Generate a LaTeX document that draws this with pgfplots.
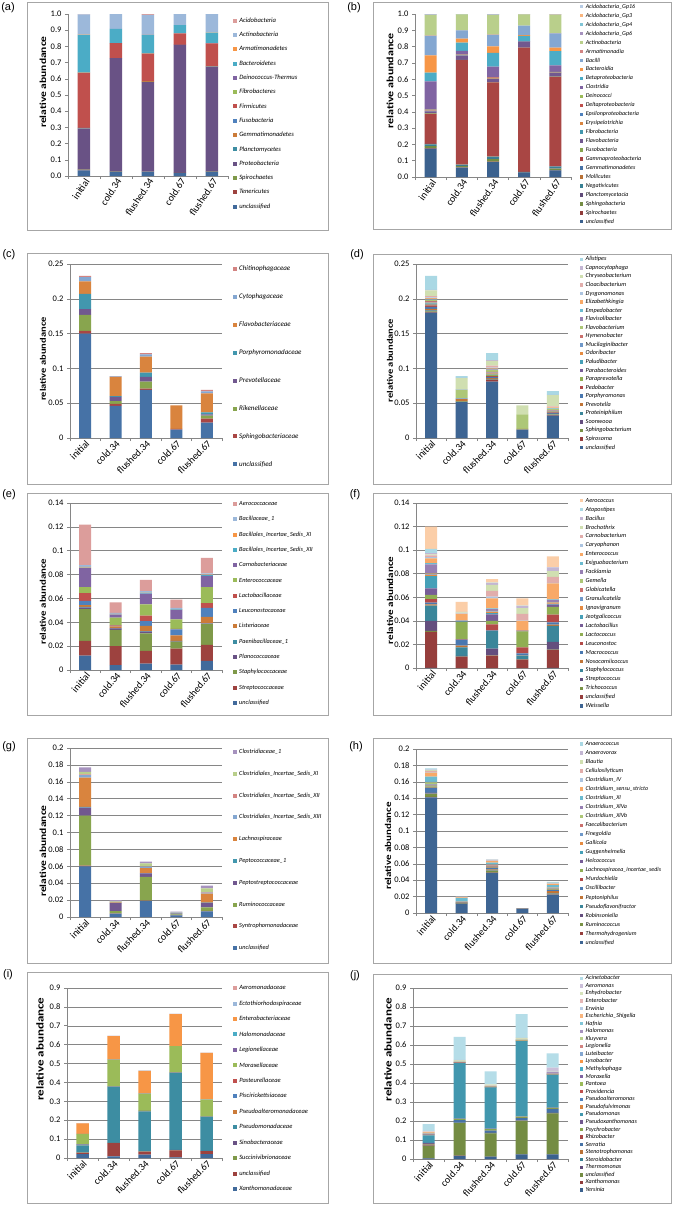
\documentclass[border=0pt]{standalone}
\usepackage{pgfplots}
\pgfplotsset{compat=1.18}
\usepackage{graphicx}
\usepackage{fontspec}
\setmainfont{Carlito}
\newfontfamily\arialf{Liberation Sans}

\definecolor{acc0}{HTML}{4F81BD}
\definecolor{acc1}{HTML}{C0504D}
\definecolor{acc2}{HTML}{9BBB59}
\definecolor{acc3}{HTML}{8064A2}
\definecolor{acc4}{HTML}{4BACC6}
\definecolor{acc5}{HTML}{F79646}
\definecolor{framec}{HTML}{A6A6A6}
\definecolor{axisc}{HTML}{868686}

% Excel-like palette: series k gets accent (k mod 6), darker/lighter by cycle
\newcommand\setpal[1]{%
  \foreach \k in {0,...,28}{%
    \pgfmathtruncatemacro\acc{mod(\k,6)}%
    \pgfmathtruncatemacro\cyc{floor(\k/6)}%
    \pgfmathsetmacro\f{(\cyc+1)/(#1+1)*1.4-0.7}%
    \ifdim\f pt<0pt
      \pgfmathtruncatemacro\p{100*exp(ln(1+\f)/2.2)}%
      \xglobal\colorlet{s\k}{acc\acc!\p!black}%
    \else
      \pgfmathtruncatemacro\p{max(0,100*(1-1.25*\f))}%
      \xglobal\colorlet{s\k}{acc\acc!\p!white}%
    \fi
  }%
}

\pgfplotscreateplotcyclelist{pal}{%
{fill=s0,draw=none},{fill=s1,draw=none},{fill=s2,draw=none},{fill=s3,draw=none},{fill=s4,draw=none},{fill=s5,draw=none},%
{fill=s6,draw=none},{fill=s7,draw=none},{fill=s8,draw=none},{fill=s9,draw=none},{fill=s10,draw=none},{fill=s11,draw=none},%
{fill=s12,draw=none},{fill=s13,draw=none},{fill=s14,draw=none},{fill=s15,draw=none},{fill=s16,draw=none},{fill=s17,draw=none},%
{fill=s18,draw=none},{fill=s19,draw=none},{fill=s20,draw=none},{fill=s21,draw=none},{fill=s22,draw=none},{fill=s23,draw=none},%
{fill=s24,draw=none},{fill=s25,draw=none},{fill=s26,draw=none},{fill=s27,draw=none},{fill=s28,draw=none}}

\def\mk{4}\def\mkh{2}
% legend: #1 x, #2 y (axis description cs), #3 font size, #4 row pitch
\pgfplotsset{
  myleg/.style={legend image code/.code={\fill[##1] (0pt,-\mkh pt) rectangle (\mk pt,\mkh pt);}},
  leg/.style n args={4}{legend style={at={(#1,#2)},
    font=\fontsize{#3}{#3}\selectfont\itshape, row sep=0pt,
    nodes={inner ysep=0pt, inner xsep=2.3pt, minimum height=#4pt,
           text height=0.7*#3pt, text depth=0.2*#3pt}}},
  panel/.style={
    scale only axis, anchor=south west,
    ybar stacked, ymin=0, xmin=-0.5, xmax=4.5,
    axis x line*=bottom, axis y line*=left,
    axis line style={axisc, line width=0.6pt},
    tick align=outside, major tick length=3pt,
    tick style={axisc, line width=0.6pt},
    xtick={-0.5,0.5,1.5,2.5,3.5,4.5}, xticklabels={},
    extra x ticks={0,1,2,3,4},
    extra x tick labels={initial,cold.34,flushed.34,cold.67,flushed.67},
    extra x tick style={major tick length=0pt},
    xticklabel style={anchor=north east, inner sep=1pt, font=\fontsize{10}{10}\selectfont},
    yticklabel style={font=\fontsize{8.5}{9}\selectfont},
    /pgf/number format/assume math mode=true,
    scaled y ticks=false,
    grid style={draw=axisc, line width=0.5pt},
    cycle list name=pal,
    every axis plot post/.append style={myleg},
    reverse legend, legend cell align=left,
    legend style={draw=none, fill=none, anchor=north west, inner sep=0pt, outer sep=0pt},
    ylabel={\scalebox{1}[0.8]{\bfseries relative abundance}},
    ylabel style={anchor=center},
  },
}

\begin{document}
\begin{tikzpicture}
\path[use as bounding box, fill=white] (0pt,0pt) rectangle (676pt,-1205pt);

% ---------------- (a) phylum ----------------
\setpal{3}\def\mk{4}\def\mkh{2}
\begin{axis}[panel, at={(68pt,-176pt)}, width=160pt, height=162pt, bar width=12.5pt,
  ymax=1, ytick={0,0.1,0.2,0.3,0.4,0.5,0.6,0.7,0.8,0.9,1},
  yticklabel style={/pgf/number format/.cd, fixed, fixed zerofill, precision=1},
  xticklabel style={rotate=56},
  ylabel style={at={(axis description cs:-0.156,0.58)}, font=\fontsize{11.5}{11.5}\selectfont},
  leg={1.031}{1.003}{6.6}{14.3}]
\addplot coordinates {(0,0.035) (1,0.025) (2,0.027) (3,0.018) (4,0.025)}; \addlegendentry{unclassified}
\addplot coordinates {(0,0.003) (1,0.001) (2,0.001) (3,0.001) (4,0.001)}; \addlegendentry{Tenericutes}
\addplot coordinates {(0,0.002) (1,0.001) (2,0.001) (3,0.001) (4,0.001)}; \addlegendentry{Spirochaetes}
\addplot coordinates {(0,0.253) (1,0.700) (2,0.551) (3,0.789) (4,0.647)}; \addlegendentry{Proteobacteria}
\addplot coordinates {(0,0.001) (1,0.000) (2,0.001) (3,0.000) (4,0.001)}; \addlegendentry{Planctomycetes}
\addplot coordinates {(0,0.001) (1,0.000) (2,0.004) (3,0.000) (4,0.001)}; \addlegendentry{Gemmatimonadetes}
\addplot coordinates {(0,0.002) (1,0.001) (2,0.001) (3,0.001) (4,0.001)}; \addlegendentry{Fusobacteria}
\addplot coordinates {(0,0.340) (1,0.092) (2,0.170) (3,0.071) (4,0.142)}; \addlegendentry{Firmicutes}
\addplot coordinates {(0,0.001) (1,0.000) (2,0.001) (3,0.000) (4,0.000)}; \addlegendentry{Fibrobacteres}
\addplot coordinates {(0,0.001) (1,0.001) (2,0.001) (3,0.000) (4,0.001)}; \addlegendentry{Deinococcus-Thermus}
\addplot coordinates {(0,0.232) (1,0.087) (2,0.112) (3,0.051) (4,0.065)}; \addlegendentry{Bacteroidetes}
\addplot coordinates {(0,0.002) (1,0.000) (2,0.001) (3,0.000) (4,0.001)}; \addlegendentry{Armatimonadetes}
\addplot coordinates {(0,0.125) (1,0.092) (2,0.123) (3,0.067) (4,0.113)}; \addlegendentry{Actinobacteria}
\addplot coordinates {(0,0.002) (1,0.000) (2,0.006) (3,0.001) (4,0.001)}; \addlegendentry{Acidobacteria}
\end{axis}

% ---------------- (b) class ----------------
\setpal{5}\def\mk{3.4}\def\mkh{1.7}
\begin{axis}[panel, at={(415pt,-177pt)}, width=156pt, height=163pt, bar width=12pt,
  ymax=1, ytick={0,0.1,0.2,0.3,0.4,0.5,0.6,0.7,0.8,0.9,1},
  yticklabel style={/pgf/number format/.cd, fixed, fixed zerofill, precision=1},
  xticklabel style={rotate=55},
  ylabel style={at={(axis description cs:-0.160,0.59)}, font=\fontsize{12}{12}\selectfont},
  leg={1.058}{1.072}{6.0}{8.96}]
\addplot coordinates {(0,0.174) (1,0.057) (2,0.092) (3,0.028) (4,0.041)}; \addlegendentry{unclassified}
\addplot coordinates {(0,0.003) (1,0.002) (2,0.003) (3,0.001) (4,0.001)}; \addlegendentry{Spirochaetes}
\addplot coordinates {(0,0.012) (1,0.008) (2,0.015) (3,0.001) (4,0.010)}; \addlegendentry{Sphingobacteria}
\addplot coordinates {(0,0.001) (1,0.001) (2,0.001) (3,0.000) (4,0.001)}; \addlegendentry{Planctomycetacia}
\addplot coordinates {(0,0.010) (1,0.007) (2,0.012) (3,0.001) (4,0.010)}; \addlegendentry{Negativicutes}
\addplot coordinates {(0,0.002) (1,0.001) (2,0.002) (3,0.000) (4,0.001)}; \addlegendentry{Mollicutes}
\addplot coordinates {(0,0.001) (1,0.001) (2,0.001) (3,0.000) (4,0.001)}; \addlegendentry{Gemmatimonadetes}
\addplot coordinates {(0,0.185) (1,0.640) (2,0.454) (3,0.762) (4,0.550)}; \addlegendentry{Gammaproteobacteria}
\addplot coordinates {(0,0.002) (1,0.002) (2,0.002) (3,0.001) (4,0.001)}; \addlegendentry{Fusobacteria}
\addplot coordinates {(0,0.012) (1,0.025) (2,0.018) (3,0.035) (4,0.022)}; \addlegendentry{Flavobacteria}
\addplot coordinates {(0,0.002) (1,0.002) (2,0.002) (3,0.001) (4,0.001)}; \addlegendentry{Fibrobacteria}
\addplot coordinates {(0,0.003) (1,0.002) (2,0.003) (3,0.000) (4,0.002)}; \addlegendentry{Erysipelotrichia}
\addplot coordinates {(0,0.002) (1,0.001) (2,0.002) (3,0.000) (4,0.001)}; \addlegendentry{Epsilonproteobacteria}
\addplot coordinates {(0,0.003) (1,0.002) (2,0.004) (3,0.001) (4,0.002)}; \addlegendentry{Deltaproteobacteria}
\addplot coordinates {(0,0.002) (1,0.001) (2,0.002) (3,0.000) (4,0.001)}; \addlegendentry{Deinococci}
\addplot coordinates {(0,0.172) (1,0.022) (2,0.064) (3,0.003) (4,0.040)}; \addlegendentry{Clostridia}
\addplot coordinates {(0,0.055) (1,0.050) (2,0.085) (3,0.032) (4,0.088)}; \addlegendentry{Betaproteobacteria}
\addplot coordinates {(0,0.105) (1,0.025) (2,0.040) (3,0.005) (4,0.020)}; \addlegendentry{Bacteroidia}
\addplot coordinates {(0,0.120) (1,0.050) (2,0.070) (3,0.058) (4,0.088)}; \addlegendentry{Bacilli}
\addplot coordinates {(0,0.002) (1,0.001) (2,0.002) (3,0.000) (4,0.001)}; \addlegendentry{Armatimonadia}
\addplot coordinates {(0,0.126) (1,0.097) (2,0.120) (3,0.069) (4,0.114)}; \addlegendentry{Actinobacteria}
\addplot coordinates {(0,0.002) (1,0.001) (2,0.002) (3,0.001) (4,0.001)}; \addlegendentry{Acidobacteria\_Gp6}
\addplot coordinates {(0,0.001) (1,0.001) (2,0.001) (3,0.0005) (4,0.001)}; \addlegendentry{Acidobacteria\_Gp4}
\addplot coordinates {(0,0.001) (1,0.0005) (2,0.001) (3,0.0005) (4,0.0005)}; \addlegendentry{Acidobacteria\_Gp3}
\addplot coordinates {(0,0.002) (1,0.0005) (2,0.002) (3,0.000) (4,0.0005)}; \addlegendentry{Acidobacteria\_Gp16}
\end{axis}

% ---------------- (c) Bacteroidetes families ----------------
\setpal{2}\def\mk{4}\def\mkh{2}
\begin{axis}[panel, at={(70pt,-438pt)}, width=152pt, height=174pt, bar width=12pt,
  ymax=0.25, ytick={0,0.05,0.1,0.15,0.2,0.25}, ymajorgrids,
  yticklabel style={/pgf/number format/fixed},
  xticklabel style={rotate=45},
  ylabel style={at={(axis description cs:-0.178,0.454)}, font=\fontsize{10.5}{10.5}\selectfont},
  leg={1.072}{1.051}{7}{27.9}]
\addplot coordinates {(0,0.150) (1,0.046) (2,0.069) (3,0.012) (4,0.022)}; \addlegendentry{unclassified}
\addplot coordinates {(0,0.004) (1,0.003) (2,0.002) (3,0.001) (4,0.006)}; \addlegendentry{Sphingobacteriaceae}
\addplot coordinates {(0,0.023) (1,0.004) (2,0.010) (3,0.000) (4,0.004)}; \addlegendentry{Rikenellaceae}
\addplot coordinates {(0,0.008) (1,0.006) (2,0.007) (3,0.000) (4,0.002)}; \addlegendentry{Prevotellaceae}
\addplot coordinates {(0,0.022) (1,0.001) (2,0.006) (3,0.000) (4,0.003)}; \addlegendentry{Porphyromonadaceae}
\addplot coordinates {(0,0.018) (1,0.028) (2,0.023) (3,0.034) (4,0.027)}; \addlegendentry{Flavobacteriaceae}
\addplot coordinates {(0,0.006) (1,0.0005) (2,0.003) (3,0.000) (4,0.003)}; \addlegendentry{Cytophagaceae}
\addplot coordinates {(0,0.002) (1,0.0005) (2,0.002) (3,0.000) (4,0.002)}; \addlegendentry{Chitinophagaceae}
\end{axis}

% ---------------- (d) Bacteroidetes genera ----------------
\setpal{4}\def\mk{3.4}\def\mkh{1.7}
\begin{axis}[panel, at={(416pt,-438pt)}, width=152pt, height=174pt, bar width=12pt,
  ymax=0.25, ytick={0,0.05,0.1,0.15,0.2,0.25}, ymajorgrids,
  yticklabel style={/pgf/number format/fixed},
  xticklabel style={rotate=45},
  ylabel style={at={(axis description cs:-0.171,0.445)}, font=\fontsize{10.5}{10.5}\selectfont},
  leg={1.079}{1.052}{6.2}{8.56}]
\addplot coordinates {(0,0.180) (1,0.052) (2,0.081) (3,0.012) (4,0.032)}; \addlegendentry{unclassified}
\addplot coordinates {(0,0.001) (1,0.000) (2,0.002) (3,0.000) (4,0.001)}; \addlegendentry{Spirosoma}
\addplot coordinates {(0,0.001) (1,0.0005) (2,0.001) (3,0.0005) (4,0.0005)}; \addlegendentry{Sphingobacterium}
\addplot coordinates {(0,0.0005) (1,0.000) (2,0.0005) (3,0.000) (4,0.000)}; \addlegendentry{Soonwooa}
\addplot coordinates {(0,0.001) (1,0.000) (2,0.0005) (3,0.000) (4,0.0005)}; \addlegendentry{Proteiniphilum}
\addplot coordinates {(0,0.002) (1,0.0035) (2,0.001) (3,0.0005) (4,0.0005)}; \addlegendentry{Prevotella}
\addplot coordinates {(0,0.003) (1,0.0005) (2,0.002) (3,0.000) (4,0.0015)}; \addlegendentry{Porphyromonas}
\addplot coordinates {(0,0.002) (1,0.000) (2,0.001) (3,0.000) (4,0.001)}; \addlegendentry{Pedobacter}
\addplot coordinates {(0,0.001) (1,0.000) (2,0.002) (3,0.000) (4,0.0005)}; \addlegendentry{Paraprevotella}
\addplot coordinates {(0,0.001) (1,0.000) (2,0.0005) (3,0.000) (4,0.000)}; \addlegendentry{Parabacteroides}
\addplot coordinates {(0,0.001) (1,0.000) (2,0.0005) (3,0.000) (4,0.0005)}; \addlegendentry{Paludibacter}
\addplot coordinates {(0,0.001) (1,0.000) (2,0.001) (3,0.000) (4,0.0005)}; \addlegendentry{Odoribacter}
\addplot coordinates {(0,0.001) (1,0.0005) (2,0.001) (3,0.000) (4,0.001)}; \addlegendentry{Mucilaginibacter}
\addplot coordinates {(0,0.001) (1,0.000) (2,0.001) (3,0.000) (4,0.0005)}; \addlegendentry{Hymenobacter}
\addplot coordinates {(0,0.002) (1,0.012) (2,0.003) (3,0.021) (4,0.0015)}; \addlegendentry{Flavobacterium}
\addplot coordinates {(0,0.0005) (1,0.000) (2,0.0005) (3,0.000) (4,0.000)}; \addlegendentry{Flavisolibacter}
\addplot coordinates {(0,0.001) (1,0.0005) (2,0.001) (3,0.000) (4,0.001)}; \addlegendentry{Empedobacter}
\addplot coordinates {(0,0.001) (1,0.000) (2,0.0005) (3,0.000) (4,0.0015)}; \addlegendentry{Elizabethkingia}
\addplot coordinates {(0,0.001) (1,0.000) (2,0.001) (3,0.000) (4,0.0005)}; \addlegendentry{Dysgonomonas}
\addplot coordinates {(0,0.002) (1,0.0005) (2,0.003) (3,0.000) (4,0.001)}; \addlegendentry{Cloacibacterium}
\addplot coordinates {(0,0.008) (1,0.016) (2,0.007) (3,0.013) (4,0.016)}; \addlegendentry{Chryseobacterium}
\addplot coordinates {(0,0.001) (1,0.0005) (2,0.001) (3,0.000) (4,0.0005)}; \addlegendentry{Capnocytophaga}
\addplot coordinates {(0,0.020) (1,0.0025) (2,0.010) (3,0.000) (4,0.0055)}; \addlegendentry{Alistipes}
\end{axis}

% ---------------- (e) Bacilli families ----------------
\setpal{3}\def\mk{4}\def\mkh{2}
\begin{axis}[panel, at={(70pt,-670pt)}, width=152pt, height=167pt, bar width=12pt,
  ymax=0.14, ytick={0,0.02,0.04,0.06,0.08,0.1,0.12,0.14}, ymajorgrids,
  yticklabel style={/pgf/number format/fixed},
  xticklabel style={rotate=50},
  ylabel style={at={(axis description cs:-0.178,0.41)}, font=\fontsize{10.8}{10.8}\selectfont},
  leg={1.072}{1.040}{6.3}{15.3}]
\addplot coordinates {(0,0.012) (1,0.004) (2,0.0053) (3,0.0045) (4,0.0076)}; \addlegendentry{unclassified}
\addplot coordinates {(0,0.0124) (1,0.016) (2,0.0107) (3,0.0135) (4,0.0134)}; \addlegendentry{Streptococcaceae}
\addplot coordinates {(0,0.0266) (1,0.0136) (2,0.0148) (3,0.0058) (4,0.0174)}; \addlegendentry{Staphylococcaceae}
\addplot coordinates {(0,0.0014) (1,0.0012) (2,0.0013) (3,0.0004) (4,0.0004)}; \addlegendentry{Planococcaceae}
\addplot coordinates {(0,0.0005) (1,0.0004) (2,0.0004) (3,0.0002) (4,0.0002)}; \addlegendentry{Paenibacillaceae\_1}
\addplot coordinates {(0,0.0015) (1,0.0014) (2,0.0045) (3,0.0046) (4,0.0055)}; \addlegendentry{Listeriaceae}
\addplot coordinates {(0,0.0035) (1,0.0004) (2,0.004) (3,0.005) (4,0.0075)}; \addlegendentry{Leuconostocaceae}
\addplot coordinates {(0,0.0065) (1,0.0005) (2,0.0045) (3,0.0005) (4,0.004)}; \addlegendentry{Lactobacillaceae}
\addplot coordinates {(0,0.005) (1,0.0065) (2,0.0095) (3,0.008) (4,0.0135)}; \addlegendentry{Enterococcaceae}
\addplot coordinates {(0,0.016) (1,0.0025) (2,0.009) (3,0.008) (4,0.0095)}; \addlegendentry{Carnobacteriaceae}
\addplot coordinates {(0,0.0005) (1,0.0002) (2,0.0008) (3,0.0003) (4,0.0005)}; \addlegendentry{Bacillales\_Incertae\_Sedis\_XII}
\addplot coordinates {(0,0.0005) (1,0.0003) (2,0.0003) (3,0.0002) (4,0.0005)}; \addlegendentry{Bacillales\_Incertae\_Sedis\_XI}
\addplot coordinates {(0,0.0015) (1,0.001) (2,0.001) (3,0.001) (4,0.001)}; \addlegendentry{Bacillaceae\_1}
\addplot coordinates {(0,0.034) (1,0.0086) (2,0.0094) (3,0.007) (4,0.013)}; \addlegendentry{Aerococcaceae}
\end{axis}

% ---------------- (f) Bacilli genera ----------------
\setpal{4}\def\mk{3.4}\def\mkh{1.7}
\begin{axis}[panel, at={(416pt,-668pt)}, width=152pt, height=165pt, bar width=12pt,
  ymax=0.14, ytick={0,0.02,0.04,0.06,0.08,0.1,0.12,0.14}, ymajorgrids,
  yticklabel style={/pgf/number format/fixed},
  xticklabel style={rotate=50},
  ylabel style={at={(axis description cs:-0.171,0.41)}, font=\fontsize{11}{11}\selectfont},
  leg={1.079}{1.041}{6.2}{8.93}]
\addplot coordinates {(0,0.0002) (1,0.000) (2,0.000) (3,0.000) (4,0.0002)}; \addlegendentry{Weissella}
\addplot coordinates {(0,0.0305) (1,0.0094) (2,0.0105) (3,0.0071) (4,0.0151)}; \addlegendentry{unclassified}
\addplot coordinates {(0,0.0008) (1,0.0003) (2,0.0003) (3,0.0002) (4,0.0002)}; \addlegendentry{Trichococcus}
\addplot coordinates {(0,0.0085) (1,0.0005) (2,0.0057) (3,0.0002) (4,0.0067)}; \addlegendentry{Streptococcus}
\addplot coordinates {(0,0.013) (1,0.0073) (2,0.0147) (3,0.003) (4,0.0136)}; \addlegendentry{Staphylococcus}
\addplot coordinates {(0,0.001) (1,0.0015) (2,0.0003) (3,0.0003) (4,0.001)}; \addlegendentry{Nosocomiicoccus}
\addplot coordinates {(0,0.0015) (1,0.005) (2,0.0005) (3,0.0017) (4,0.002)}; \addlegendentry{Macrococcus}
\addplot coordinates {(0,0.003) (1,0.0005) (2,0.005) (3,0.005) (4,0.0065)}; \addlegendentry{Leuconostoc}
\addplot coordinates {(0,0.0035) (1,0.0145) (2,0.003) (3,0.0135) (4,0.0065)}; \addlegendentry{Lactococcus}
\addplot coordinates {(0,0.0055) (1,0.0002) (2,0.0055) (3,0.0002) (4,0.002)}; \addlegendentry{Lactobacillus}
\addplot coordinates {(0,0.0105) (1,0.0003) (2,0.001) (3,0.0002) (4,0.0005)}; \addlegendentry{Jeotgalicoccus}
\addplot coordinates {(0,0.001) (1,0.0002) (2,0.001) (3,0.0001) (4,0.0005)}; \addlegendentry{Ignavigranum}
\addplot coordinates {(0,0.0005) (1,0.0001) (2,0.0003) (3,0.0001) (4,0.0003)}; \addlegendentry{Granulicatella}
\addplot coordinates {(0,0.0005) (1,0.0001) (2,0.0003) (3,0.0001) (4,0.0003)}; \addlegendentry{Globicatella}
\addplot coordinates {(0,0.0005) (1,0.0001) (2,0.0004) (3,0.0001) (4,0.0004)}; \addlegendentry{Gemella}
\addplot coordinates {(0,0.0075) (1,0.0002) (2,0.0015) (3,0.0001) (4,0.002)}; \addlegendentry{Facklamia}
\addplot coordinates {(0,0.001) (1,0.0002) (2,0.0005) (3,0.0001) (4,0.0005)}; \addlegendentry{Exiguobacterium}
\addplot coordinates {(0,0.004) (1,0.0056) (2,0.0085) (3,0.0079) (4,0.0135)}; \addlegendentry{Enterococcus}
\addplot coordinates {(0,0.001) (1,0.0001) (2,0.0015) (3,0.0003) (4,0.0005)}; \addlegendentry{Caryophanon}
\addplot coordinates {(0,0.0015) (1,0.0003) (2,0.005) (3,0.0057) (4,0.005)}; \addlegendentry{Carnobacterium}
\addplot coordinates {(0,0.001) (1,0.0008) (2,0.005) (3,0.005) (4,0.005)}; \addlegendentry{Brochothrix}
\addplot coordinates {(0,0.001) (1,0.0002) (2,0.0015) (3,0.0017) (4,0.003)}; \addlegendentry{Bacillus}
\addplot coordinates {(0,0.0035) (1,0.0002) (2,0.0005) (3,0.0003) (4,0.0003)}; \addlegendentry{Atopostipes}
\addplot coordinates {(0,0.019) (1,0.0085) (2,0.003) (3,0.0061) (4,0.0092)}; \addlegendentry{Aerococcus}
\end{axis}

% ---------------- (g) Clostridia families ----------------
\setpal{2}\def\mk{4}\def\mkh{2}
\begin{axis}[panel, at={(70pt,-917pt)}, width=152pt, height=169pt, bar width=12pt,
  ymax=0.2, ytick={0,0.02,0.04,0.06,0.08,0.1,0.12,0.14,0.16,0.18,0.2}, ymajorgrids,
  yticklabel style={/pgf/number format/fixed},
  xticklabel style={rotate=45},
  ylabel style={at={(axis description cs:-0.178,0.39)}, font=\fontsize{11.5}{11.5}\selectfont},
  leg={1.072}{1.041}{6.3}{21.8}]
\addplot coordinates {(0,0.060) (1,0.004) (2,0.019) (3,0.002) (4,0.0067)}; \addlegendentry{unclassified}
\addplot coordinates {(0,0.0008) (1,0.0003) (2,0.0005) (3,0.0002) (4,0.0005)}; \addlegendentry{Syntrophomonadaceae}
\addplot coordinates {(0,0.0592) (1,0.0027) (2,0.028) (3,0.001) (4,0.0043)}; \addlegendentry{Ruminococcaceae}
\addplot coordinates {(0,0.0095) (1,0.0095) (2,0.004) (3,0.0008) (4,0.0051)}; \addlegendentry{Peptostreptococcaceae}
\addplot coordinates {(0,0.0008) (1,0.0003) (2,0.0005) (3,0.0003) (4,0.0005)}; \addlegendentry{Peptococcaceae\_1}
\addplot coordinates {(0,0.0347) (1,0.0005) (2,0.006) (3,0.0003) (4,0.0106)}; \addlegendentry{Lachnospiraceae}
\addplot coordinates {(0,0.003) (1,0.0005) (2,0.0015) (3,0.0005) (4,0.0013)}; \addlegendentry{Clostridiales\_Incertae\_Sedis\_XIII}
\addplot coordinates {(0,0.0008) (1,0.0002) (2,0.0005) (3,0.0002) (4,0.0005)}; \addlegendentry{Clostridiales\_Incertae\_Sedis\_XII}
\addplot coordinates {(0,0.003) (1,0.0005) (2,0.0035) (3,0.0002) (4,0.0045)}; \addlegendentry{Clostridiales\_Incertae\_Sedis\_XI}
\addplot coordinates {(0,0.0052) (1,0.0015) (2,0.002) (3,0.0008) (4,0.003)}; \addlegendentry{Clostridiaceae\_1}
\end{axis}

% ---------------- (h) Clostridia genera ----------------
\setpal{4}\def\mk{3.4}\def\mkh{1.7}
\begin{axis}[panel, at={(416pt,-913pt)}, width=152pt, height=164pt, bar width=12pt,
  ymax=0.2, ytick={0,0.02,0.04,0.06,0.08,0.1,0.12,0.14,0.16,0.18,0.2}, ymajorgrids,
  yticklabel style={/pgf/number format/fixed},
  xticklabel style={rotate=48},
  ylabel style={at={(axis description cs:-0.184,0.41)}, font=\fontsize{11}{11}\selectfont},
  leg={1.079}{1.058}{6.0}{9.03}]
\addplot coordinates {(0,0.141) (1,0.011) (2,0.0488) (3,0.0049) (4,0.0224)}; \addlegendentry{unclassified}
\addplot coordinates {(0,0.0005) (1,0.0002) (2,0.0004) (3,0.0001) (4,0.0003)}; \addlegendentry{Thermohydrogenium}
\addplot coordinates {(0,0.0035) (1,0.0003) (2,0.0025) (3,0.0001) (4,0.0008)}; \addlegendentry{Ruminococcus}
\addplot coordinates {(0,0.0005) (1,0.0001) (2,0.0004) (3,0.000) (4,0.0003)}; \addlegendentry{Robinsoniella}
\addplot coordinates {(0,0.0005) (1,0.0002) (2,0.0005) (3,0.000) (4,0.0005)}; \addlegendentry{Pseudoflavonifractor}
\addplot coordinates {(0,0.0005) (1,0.0003) (2,0.0005) (3,0.000) (4,0.0025)}; \addlegendentry{Peptoniphilus}
\addplot coordinates {(0,0.006) (1,0.0003) (2,0.0018) (3,0.0001) (4,0.0012)}; \addlegendentry{Oscillibacter}
\addplot coordinates {(0,0.0005) (1,0.0002) (2,0.0005) (3,0.000) (4,0.0003)}; \addlegendentry{Murdochiella}
\addplot coordinates {(0,0.0015) (1,0.0003) (2,0.0008) (3,0.000) (4,0.0005)}; \addlegendentry{Lachnospiracea\_incertae\_sedis}
\addplot coordinates {(0,0.0005) (1,0.0002) (2,0.0003) (3,0.000) (4,0.0003)}; \addlegendentry{Helcococcus}
\addplot coordinates {(0,0.0003) (1,0.0001) (2,0.0002) (3,0.000) (4,0.0002)}; \addlegendentry{Guggenheimella}
\addplot coordinates {(0,0.001) (1,0.0002) (2,0.0004) (3,0.000) (4,0.0005)}; \addlegendentry{Gallicola}
\addplot coordinates {(0,0.0005) (1,0.0002) (2,0.0005) (3,0.000) (4,0.0005)}; \addlegendentry{Finegoldia}
\addplot coordinates {(0,0.0005) (1,0.0001) (2,0.0005) (3,0.000) (4,0.0003)}; \addlegendentry{Faecalibacterium}
\addplot coordinates {(0,0.002) (1,0.0003) (2,0.001) (3,0.000) (4,0.0005)}; \addlegendentry{Clostridium\_XlVb}
\addplot coordinates {(0,0.0005) (1,0.0001) (2,0.0005) (3,0.000) (4,0.0003)}; \addlegendentry{Clostridium\_XlVa}
\addplot coordinates {(0,0.0065) (1,0.004) (2,0.002) (3,0.0002) (4,0.0025)}; \addlegendentry{Clostridium\_XI}
\addplot coordinates {(0,0.005) (1,0.001) (2,0.0018) (3,0.0002) (4,0.0015)}; \addlegendentry{Clostridium\_sensu\_stricto}
\addplot coordinates {(0,0.0005) (1,0.0002) (2,0.0005) (3,0.000) (4,0.0003)}; \addlegendentry{Clostridium\_IV}
\addplot coordinates {(0,0.0015) (1,0.0002) (2,0.0005) (3,0.0003) (4,0.0005)}; \addlegendentry{Cellulosilyticum}
\addplot coordinates {(0,0.001) (1,0.0003) (2,0.0003) (3,0.000) (4,0.0005)}; \addlegendentry{Blautia}
\addplot coordinates {(0,0.0005) (1,0.0001) (2,0.0003) (3,0.000) (4,0.0002)}; \addlegendentry{Anaerovorax}
\addplot coordinates {(0,0.0015) (1,0.0002) (2,0.0005) (3,0.000) (4,0.001)}; \addlegendentry{Anaerococcus}
\end{axis}

% ---------------- (i) Gammaproteobacteria families ----------------
\setpal{3}\def\mk{4}\def\mkh{2}
\begin{axis}[panel, at={(67pt,-1158pt)}, width=155pt, height=170pt, bar width=12.5pt,
  ymax=0.9, ytick={0,0.1,0.2,0.3,0.4,0.5,0.6,0.7,0.8,0.9}, ymajorgrids,
  yticklabel style={/pgf/number format/fixed},
  xticklabel style={rotate=45},
  ylabel style={at={(axis description cs:-0.174,0.64)}, font=\fontsize{13}{13}\selectfont},
  leg={1.071}{1.045}{6.5}{15.46}]
\addplot coordinates {(0,0.020) (1,0.009) (2,0.018) (3,0.004) (4,0.021)}; \addlegendentry{Xanthomonadaceae}
\addplot coordinates {(0,0.007) (1,0.070) (2,0.016) (3,0.037) (4,0.015)}; \addlegendentry{unclassified}
\addplot coordinates {(0,0.002) (1,0.001) (2,0.001) (3,0.001) (4,0.001)}; \addlegendentry{Succinivibrionaceae}
\addplot coordinates {(0,0.001) (1,0.0005) (2,0.0005) (3,0.0005) (4,0.0005)}; \addlegendentry{Sinobacteraceae}
\addplot coordinates {(0,0.037) (1,0.298) (2,0.212) (3,0.409) (4,0.180)}; \addlegendentry{Pseudomonadaceae}
\addplot coordinates {(0,0.002) (1,0.001) (2,0.001) (3,0.0005) (4,0.0005)}; \addlegendentry{Pseudoalteromonadaceae}
\addplot coordinates {(0,0.003) (1,0.0005) (2,0.0005) (3,0.0005) (4,0.0005)}; \addlegendentry{Piscirickettsiaceae}
\addplot coordinates {(0,0.001) (1,0.001) (2,0.001) (3,0.0005) (4,0.0005)}; \addlegendentry{Pasteurellaceae}
\addplot coordinates {(0,0.053) (1,0.138) (2,0.089) (3,0.139) (4,0.090)}; \addlegendentry{Moraxellaceae}
\addplot coordinates {(0,0.001) (1,0.0005) (2,0.0005) (3,0.0005) (4,0.0005)}; \addlegendentry{Legionellaceae}
\addplot coordinates {(0,0.001) (1,0.001) (2,0.002) (3,0.0005) (4,0.0005)}; \addlegendentry{Halomonadaceae}
\addplot coordinates {(0,0.055) (1,0.125) (2,0.120) (3,0.169) (4,0.246)}; \addlegendentry{Enterobacteriaceae}
\addplot coordinates {(0,0.001) (1,0.0005) (2,0.0005) (3,0.0005) (4,0.0005)}; \addlegendentry{Ectothiorhodospiraceae}
\addplot coordinates {(0,0.001) (1,0.0005) (2,0.0005) (3,0.0005) (4,0.0005)}; \addlegendentry{Aeromonadaceae}
\end{axis}

% ---------------- (j) Gammaproteobacteria genera ----------------
\setpal{5}\def\mk{3.4}\def\mkh{1.7}
\begin{axis}[panel, at={(413pt,-1159pt)}, width=155pt, height=171pt, bar width=12pt,
  ymax=0.9, ytick={0,0.1,0.2,0.3,0.4,0.5,0.6,0.7,0.8,0.9}, ymajorgrids,
  yticklabel style={/pgf/number format/fixed},
  xticklabel style={rotate=48},
  ylabel style={at={(axis description cs:-0.161,0.64)}, font=\fontsize{13}{13}\selectfont},
  leg={1.077}{1.079}{6.1}{7.56}]
\addplot coordinates {(0,0.003) (1,0.017) (2,0.012) (3,0.024) (4,0.024)}; \addlegendentry{Yersinia}
\addplot coordinates {(0,0.001) (1,0.0005) (2,0.0005) (3,0.0005) (4,0.0005)}; \addlegendentry{Xanthomonas}
\addplot coordinates {(0,0.064) (1,0.172) (2,0.122) (3,0.175) (4,0.216)}; \addlegendentry{unclassified}
\addplot coordinates {(0,0.002) (1,0.0005) (2,0.0005) (3,0.0005) (4,0.0005)}; \addlegendentry{Thermomonas}
\addplot coordinates {(0,0.001) (1,0.001) (2,0.001) (3,0.001) (4,0.001)}; \addlegendentry{Steroidobacter}
\addplot coordinates {(0,0.002) (1,0.0005) (2,0.001) (3,0.0005) (4,0.001)}; \addlegendentry{Stenotrophomonas}
\addplot coordinates {(0,0.002) (1,0.013) (2,0.012) (3,0.014) (4,0.020)}; \addlegendentry{Serratia}
\addplot coordinates {(0,0.001) (1,0.0005) (2,0.0005) (3,0.0005) (4,0.0005)}; \addlegendentry{Rhizobacter}
\addplot coordinates {(0,0.004) (1,0.006) (2,0.008) (3,0.007) (4,0.006)}; \addlegendentry{Psychrobacter}
\addplot coordinates {(0,0.005) (1,0.001) (2,0.002) (3,0.001) (4,0.001)}; \addlegendentry{Pseudoxanthomonas}
\addplot coordinates {(0,0.040) (1,0.293) (2,0.217) (3,0.396) (4,0.173)}; \addlegendentry{Pseudomonas}
\addplot coordinates {(0,0.001) (1,0.0005) (2,0.0005) (3,0.0005) (4,0.0005)}; \addlegendentry{Pseudofulvimonas}
\addplot coordinates {(0,0.001) (1,0.001) (2,0.0005) (3,0.0005) (4,0.001)}; \addlegendentry{Pseudoalteromonas}
\addplot coordinates {(0,0.001) (1,0.0005) (2,0.0005) (3,0.0005) (4,0.0005)}; \addlegendentry{Providencia}
\addplot coordinates {(0,0.001) (1,0.001) (2,0.001) (3,0.001) (4,0.001)}; \addlegendentry{Pantoea}
\addplot coordinates {(0,0.001) (1,0.0005) (2,0.0005) (3,0.0005) (4,0.0005)}; \addlegendentry{Moraxella}
\addplot coordinates {(0,0.001) (1,0.0005) (2,0.0005) (3,0.0005) (4,0.0005)}; \addlegendentry{Methylophaga}
\addplot coordinates {(0,0.001) (1,0.0005) (2,0.0005) (3,0.0005) (4,0.0005)}; \addlegendentry{Lysobacter}
\addplot coordinates {(0,0.001) (1,0.0005) (2,0.0005) (3,0.0005) (4,0.0005)}; \addlegendentry{Luteibacter}
\addplot coordinates {(0,0.001) (1,0.0005) (2,0.0005) (3,0.0005) (4,0.0005)}; \addlegendentry{Legionella}
\addplot coordinates {(0,0.001) (1,0.002) (2,0.002) (3,0.003) (4,0.001)}; \addlegendentry{Kluyvera}
\addplot coordinates {(0,0.001) (1,0.0005) (2,0.0005) (3,0.0005) (4,0.007)}; \addlegendentry{Halomonas}
\addplot coordinates {(0,0.002) (1,0.001) (2,0.001) (3,0.001) (4,0.001)}; \addlegendentry{Hafnia}
\addplot coordinates {(0,0.004) (1,0.001) (2,0.001) (3,0.001) (4,0.001)}; \addlegendentry{Escherichia\_Shigella}
\addplot coordinates {(0,0.001) (1,0.001) (2,0.001) (3,0.001) (4,0.002)}; \addlegendentry{Erwinia}
\addplot coordinates {(0,0.001) (1,0.0005) (2,0.0005) (3,0.0005) (4,0.0005)}; \addlegendentry{Enterobacter}
\addplot coordinates {(0,0.002) (1,0.004) (2,0.005) (3,0.005) (4,0.002)}; \addlegendentry{Enhydrobacter}
\addplot coordinates {(0,0.002) (1,0.001) (2,0.001) (3,0.001) (4,0.018)}; \addlegendentry{Aeromonas}
\addplot coordinates {(0,0.035) (1,0.122) (2,0.068) (3,0.124) (4,0.075)}; \addlegendentry{Acinetobacter}
\end{axis}

% panel frames and letters
\begin{scope}[framec, line width=0.8pt]
\draw (27pt,-2pt) rectangle (328pt,-230pt);
\draw (373pt,-2pt) rectangle (671pt,-229pt);
\draw (27pt,-253pt) rectangle (328pt,-484pt);
\draw (373pt,-254pt) rectangle (671pt,-484pt);
\draw (27pt,-493pt) rectangle (328pt,-715pt);
\draw (373pt,-493pt) rectangle (671pt,-715pt);
\draw (27pt,-738pt) rectangle (328pt,-963pt);
\draw (373pt,-738pt) rectangle (671pt,-963pt);
\draw (27pt,-972pt) rectangle (328pt,-1203pt);
\draw (373pt,-974pt) rectangle (671pt,-1203pt);
\end{scope}
\begin{scope}[every node/.style={font=\arialf\fontsize{11}{11}\selectfont, inner sep=0pt}]
\node at (8pt,-8pt) {(a)};
\node at (354pt,-8pt) {(b)};
\node at (9pt,-255pt) {(c)};
\node at (357pt,-255pt) {(d)};
\node at (9pt,-495pt) {(e)};
\node at (355pt,-495pt) {(f)};
\node at (9pt,-747pt) {(g)};
\node at (356pt,-747pt) {(h)};
\node at (8pt,-975pt) {(i)};
\node at (355pt,-976pt) {(j)};
\end{scope}
\end{tikzpicture}
\end{document}
